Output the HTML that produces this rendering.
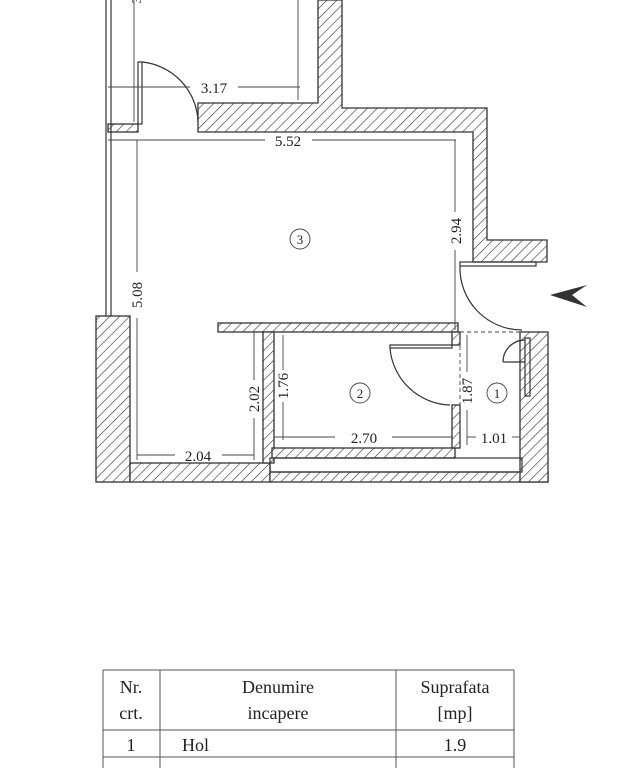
<!DOCTYPE html>
<html><head><meta charset="utf-8"><style>
html,body{margin:0;padding:0;background:#fff;}
svg{display:block;}
text{font-family:"Liberation Serif",serif;fill:#222;}
</style></head><body>
<svg width="640" height="768" viewBox="0 0 640 768" xmlns="http://www.w3.org/2000/svg">
<defs>
<pattern id="h" width="7" height="7" patternUnits="userSpaceOnUse" patternTransform="rotate(45)">
<rect width="7" height="7" fill="#fff"/><line x1="0" y1="0" x2="0" y2="7" stroke="#333" stroke-width="1.2"/>
</pattern>
</defs>
<g stroke="#333" stroke-width="1.3" fill="url(#h)">
<path d="M318 0 H342 V108 H487 V240 H547 V262 H473 V132 H198 V103 H318 Z"/>
<rect x="108" y="124" width="30" height="8"/>
<rect x="96" y="316" width="34" height="166"/>
<rect x="130" y="463" width="140" height="19"/>
<rect x="270" y="472" width="278" height="10"/>
<rect x="520" y="332" width="28" height="150"/>
<rect x="218" y="323" width="240" height="9"/>
<rect x="452" y="332" width="8" height="13"/>
<rect x="263" y="332" width="11" height="131"/>
<rect x="272" y="448" width="183" height="10"/>
<rect x="452" y="405" width="8" height="43"/>
</g>
<g stroke="#333" fill="none" stroke-width="1.2">
<rect x="270" y="458" width="252" height="14"/>
<line x1="106" y1="0" x2="106" y2="316"/><line x1="111" y1="0" x2="111" y2="316"/>
<rect x="138" y="62" width="4" height="62"/>
<path d="M142 62 A62 62 0 0 1 198 122"/>
<rect x="460" y="262" width="76" height="4"/>
<path d="M460 266 A62 62 0 0 0 522 330"/>
<rect x="390" y="345" width="62" height="3"/>
<path d="M390 348 A62 62 0 0 0 450 405"/>
<rect x="525" y="338" width="5" height="58"/>
<path d="M503 362 A22 22 0 0 1 525 340" />
<line x1="503" y1="362" x2="525" y2="362"/>
</g>
<g stroke="#444" fill="none" stroke-width="0.9">
<line x1="134" y1="0" x2="134" y2="122"/>
<line x1="298" y1="0" x2="298" y2="100"/>
<line x1="108" y1="87" x2="190" y2="87"/><line x1="238" y1="87" x2="300" y2="87"/>
<line x1="108" y1="140" x2="265" y2="140"/><line x1="312" y1="140" x2="456" y2="140"/>
<line x1="455" y1="140" x2="455" y2="212"/><line x1="455" y1="250" x2="455" y2="330"/>
<line x1="137" y1="140" x2="137" y2="272"/><line x1="137" y1="318" x2="137" y2="460"/>
<line x1="137" y1="455" x2="175" y2="455"/><line x1="222" y1="455" x2="254" y2="455"/>
<line x1="254" y1="332" x2="254" y2="380"/><line x1="254" y1="418" x2="254" y2="460"/>
<line x1="283" y1="335" x2="283" y2="370"/><line x1="283" y1="402" x2="283" y2="440"/>
<line x1="274" y1="437" x2="335" y2="437"/><line x1="392" y1="437" x2="452" y2="437"/>
<line x1="467" y1="335" x2="467" y2="372"/><line x1="467" y1="410" x2="467" y2="445"/>
<line x1="467" y1="437" x2="476" y2="437"/><line x1="512" y1="437" x2="520" y2="437"/>
<line x1="460" y1="332" x2="520" y2="332" stroke-dasharray="4 3"/>
<line x1="460" y1="332" x2="460" y2="448" stroke-dasharray="4 3"/>
<circle cx="300" cy="239" r="10"/><circle cx="360" cy="393" r="10"/><circle cx="497" cy="393" r="10"/>
</g>
<text font-size="14" transform="translate(141,0) rotate(-90)" text-anchor="middle">3</text>
<text x="214" y="93" font-size="15" text-anchor="middle">3.17</text>
<text x="288" y="146" font-size="15" text-anchor="middle">5.52</text>
<text font-size="15" transform="translate(461,231) rotate(-90)" text-anchor="middle">2.94</text>
<text font-size="15" transform="translate(142,295) rotate(-90)" text-anchor="middle">5.08</text>
<text font-size="15" transform="translate(259,399) rotate(-90)" text-anchor="middle">2.02</text>
<text font-size="15" transform="translate(288,386) rotate(-90)" text-anchor="middle">1.76</text>
<text font-size="15" transform="translate(472,391) rotate(-90)" text-anchor="middle">1.87</text>
<text x="198" y="461" font-size="15" text-anchor="middle">2.04</text>
<text x="364" y="443" font-size="15" text-anchor="middle">2.70</text>
<text x="494" y="443" font-size="15" text-anchor="middle">1.01</text>
<text x="300" y="244" font-size="13" text-anchor="middle">3</text>
<text x="360" y="398" font-size="13" text-anchor="middle">2</text>
<text x="497" y="398" font-size="13" text-anchor="middle">1</text>
<path d="M550 295 L587 285 L572 295 L587 307 Z" fill="#333"/>
<g stroke="#555" stroke-width="1" fill="none">
<line x1="103" y1="670" x2="514" y2="670"/>
<line x1="103" y1="730" x2="514" y2="730"/>
<line x1="103" y1="757" x2="514" y2="757"/>
<line x1="103" y1="670" x2="103" y2="768"/>
<line x1="160" y1="670" x2="160" y2="768"/>
<line x1="396" y1="670" x2="396" y2="768"/>
<line x1="514" y1="670" x2="514" y2="768"/>
</g>
<g font-size="18" text-anchor="middle">
<text x="131" y="693">Nr.</text><text x="131" y="719">crt.</text>
<text x="278" y="693">Denumire</text><text x="278" y="719">incapere</text>
<text x="455" y="693">Suprafata</text><text x="455" y="719">[mp]</text>
<text x="131" y="751">1</text><text x="455" y="751">1.9</text>
</g>
<text x="182" y="751" font-size="18">Hol</text>
</svg>
</body></html>
